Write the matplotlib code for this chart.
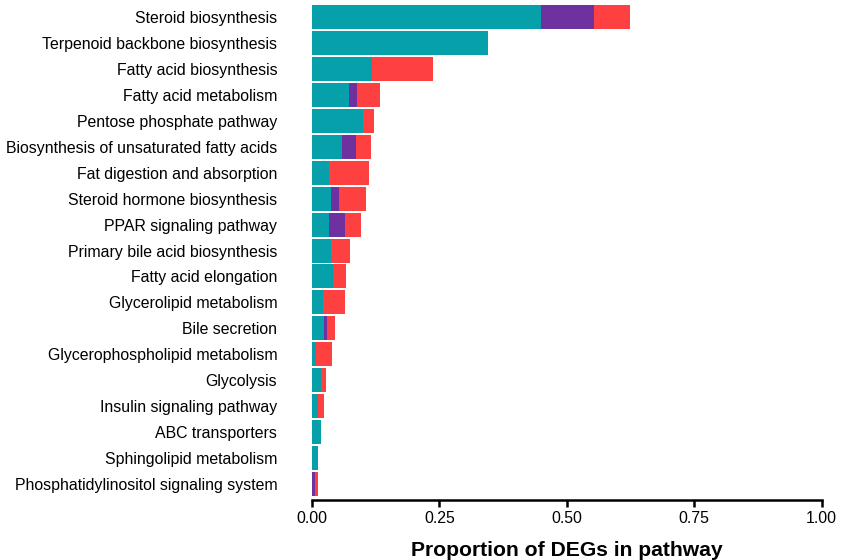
import numpy as np
import matplotlib
matplotlib.use("Agg")
import matplotlib.pyplot as plt

plt.rcParams['font.family'] = ['Liberation Sans', 'DejaVu Sans']

# Pathways (top to bottom)
pathways = [
    "Steroid biosynthesis",
    "Terpenoid backbone biosynthesis",
    "Fatty acid biosynthesis",
    "Fatty acid metabolism",
    "Pentose phosphate pathway",
    "Biosynthesis of unsaturated fatty acids",
    "Fat digestion and absorption",
    "Steroid hormone biosynthesis",
    "PPAR signaling pathway",
    "Primary bile acid biosynthesis",
    "Fatty acid elongation",
    "Glycerolipid metabolism",
    "Bile secretion",
    "Glycerophospholipid metabolism",
    "Glycolysis",
    "Insulin signaling pathway",
    "ABC transporters",
    "Sphingolipid metabolism",
    "Phosphatidylinositol signaling system",
]

# Proportion of DEGs per group (teal, purple, red segments)
teal = [0.449, 0.345, 0.117, 0.072, 0.100, 0.059, 0.033, 0.037, 0.033, 0.037,
        0.042, 0.022, 0.023, 0.008, 0.018, 0.012, 0.018, 0.012, 0.000]
purple = [0.104, 0.000, 0.000, 0.016, 0.000, 0.027, 0.000, 0.016, 0.032, 0.000,
          0.000, 0.000, 0.006, 0.000, 0.000, 0.000, 0.000, 0.000, 0.006]
red = [0.071, 0.000, 0.120, 0.045, 0.022, 0.030, 0.079, 0.053, 0.031, 0.038,
       0.024, 0.043, 0.016, 0.031, 0.010, 0.012, 0.000, 0.000, 0.006]

colors = ["#06A0AB", "#7031A0", "#FF4040"]

teal = np.array(teal)
purple = np.array(purple)
red = np.array(red)
y = np.arange(len(pathways))

fig = plt.figure(figsize=(8.41, 5.6), dpi=100)
ax = fig.add_axes([0.371, 0.108, 0.606, 0.883])

h = 0.925
ax.barh(y, teal, height=h, color=colors[0], linewidth=0)
ax.barh(y, purple, left=teal, height=h, color=colors[1], linewidth=0)
ax.barh(y, red, left=teal + purple, height=h, color=colors[2], linewidth=0)

ax.set_yticks(y)
ax.set_yticklabels(pathways, fontsize=11.4)
ax.set_ylim(len(pathways) - 1 + h / 2 + 0.135, -h / 2)
ax.set_xlim(0, 1)
ax.set_xticks([0, 0.25, 0.5, 0.75, 1.0])
ax.set_xticklabels(["0.00", "0.25", "0.50", "0.75", "1.00"], fontsize=11.4)

for s in ["top", "right", "left"]:
    ax.spines[s].set_visible(False)
ax.spines["bottom"].set_linewidth(1.8)
ax.tick_params(axis="y", length=0, pad=25)
ax.tick_params(axis="x", length=5, width=1.8, pad=3)

ax.set_xlabel("Proportion of DEGs in pathway", fontsize=15.2, fontweight="bold", labelpad=11)

fig.savefig("out.png", dpi=100)
